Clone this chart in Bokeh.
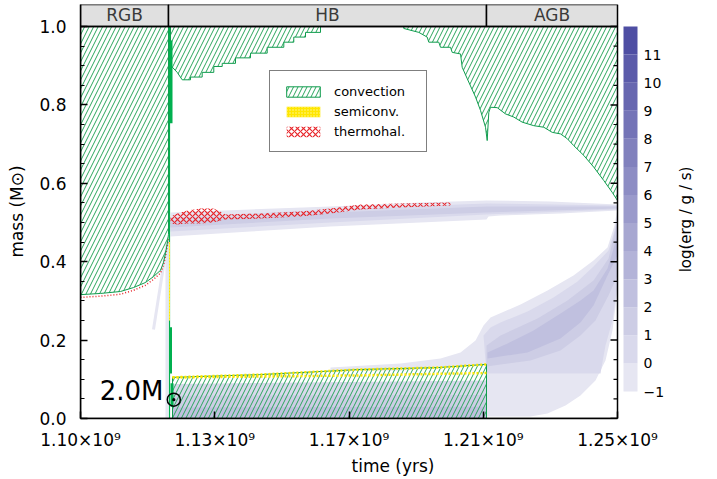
import math
from bokeh.plotting import figure
from bokeh.models import Range1d, FixedTicker, Legend, LegendItem
from bokeh.core.properties import value
from bokeh.embed import file_html
from bokeh.resources import INLINE

FONT = "DejaVu Sans"
GREEN_HATCH = "#2aa55c"
GREEN_LINE = "#109c4e"
FLASH_GREEN = "#00b04f"
YELLOW = "#ffe600"
RED = "#e8262b"

# ---------------- data (time in units of 1e9 yr, mass in Msun) ----------------
phase_edges = [1.100, 1.12458, 1.21341, 1.250]
phase_names = ["RGB", "HB", "AGB"]

x_ticks = [1.100, 1.1375, 1.175, 1.2125, 1.250]
x_tick_labels = ["1.10×10⁹", "1.13×10⁹", "1.17×10⁹", "1.21×10⁹", "1.25×10⁹"]
y_ticks = [0.0, 0.2, 0.4, 0.6, 0.8, 1.0]
y_tick_labels = ["0.0", "0.2", "0.4", "0.6", "0.8", "1.0"]
y_minor_ticks = [0.05, 0.10, 0.15, 0.25, 0.30, 0.35, 0.45, 0.50, 0.55,
                 0.65, 0.70, 0.75, 0.85, 0.90, 0.95]

cb_bounds = [-1, 0, 1, 2, 3, 4, 5, 6, 7, 8, 9, 10, 11, 12]
cb_ticks = [-1, 0, 1, 2, 3, 4, 5, 6, 7, 8, 9, 10, 11]
cb_tick_labels = ["−1", "0", "1", "2", "3", "4", "5", "6", "7", "8", "9", "10", "11"]
cb_title = "log(erg / g / s)"
cb_colors = ["#e6e6f2", "#d9d9ec", "#cdcde5", "#c0c0df", "#b3b3d8", "#a7a7d1",
             "#9a9acb", "#8d8dc4", "#8181bd", "#7474b7", "#6767b0", "#5b5baa", "#4e4ea3"]

# RGB convective envelope (bottom boundary)
rgb_bot_t = [1.10000, 1.10559, 1.11117, 1.11480, 1.11816, 1.12039, 1.12235,
             1.12318, 1.12374, 1.12430, 1.12458]
rgb_bot_m = [0.316, 0.319, 0.324, 0.334, 0.347, 0.362, 0.378, 0.398, 0.421, 0.450, 0.470]
rgb_th_m = [0.309, 0.312, 0.317, 0.327, 0.340, 0.355, 0.371, 0.391, 0.414, 0.443, 0.463]

# HB envelope convection (stepped)
hb_env_t = [1.12514, 1.12514, 1.12701, 1.12841, 1.13073, 1.13073, 1.13399, 1.13399,
            1.13723, 1.13723, 1.13958, 1.13958, 1.14330, 1.14330, 1.14749, 1.14749,
            1.15215, 1.15215, 1.15679, 1.15679, 1.15958, 1.15958, 1.16285, 1.16285,
            1.16704, 1.16704]
hb_env_m = [1.0, 0.901, 0.883, 0.864, 0.864, 0.871, 0.871, 0.883, 0.883, 0.898,
            0.898, 0.906, 0.906, 0.920, 0.920, 0.932, 0.932, 0.947, 0.947, 0.960,
            0.960, 0.973, 0.973, 0.985, 0.985, 1.0]

# late HB / AGB envelope convection
agb_env_t = [1.19031, 1.19450, 1.19684, 1.19729, 1.20008, 1.20056, 1.20335, 1.20383,
             1.20615, 1.20662, 1.20802, 1.21034, 1.21173, 1.21313, 1.21360, 1.21405,
             1.21453, 1.21640, 1.21872, 1.22103, 1.22338, 1.22662, 1.22941, 1.23176,
             1.23408, 1.23595, 1.23779, 1.24059, 1.24338, 1.24617, 1.24852, 1.25000]
agb_env_m = [0.995, 0.985, 0.973, 0.960, 0.960, 0.947, 0.947, 0.934, 0.930, 0.896,
             0.867, 0.820, 0.786, 0.743, 0.709, 0.781, 0.794, 0.793, 0.777, 0.769,
             0.756, 0.747, 0.743, 0.730, 0.726, 0.714, 0.696, 0.671, 0.641, 0.607,
             0.577, 0.556]

# HB convective core and semiconvective layer
core_t = [1.12570, 1.15000, 1.17821, 1.20000, 1.21341]
core_top_m = [0.105, 0.107, 0.110, 0.114, 0.116]
semi_top_m = [0.105, 0.112, 0.125, 0.130, 0.138]
core_shade_t = [1.12570, 1.21341]
core_shade_m = [[0.088, 0.097], [0.058, 0.060], [0.028, 0.030]]

# thermohaline mixing band on the HB
th_t = [1.12514, 1.12709, 1.12989, 1.13352, 1.13715, 1.13911, 1.14050, 1.15028,
        1.16145, 1.16983, 1.17821, 1.18939, 1.20335]
th_top_m = [0.5153, 0.5230, 0.5306, 0.5357, 0.5357, 0.5281, 0.5204, 0.5230,
            0.5281, 0.5357, 0.5459, 0.5485, 0.5510]
th_bot_m = [0.4974, 0.4949, 0.4974, 0.4974, 0.5000, 0.5051, 0.5077, 0.5102,
            0.5153, 0.5230, 0.5332, 0.5383, 0.5434]

# H-burning shell (nuclear energy levels 0, 1, 2)
hs0_top_t = [1.12514, 1.14749, 1.16983, 1.19497, 1.21341, 1.23129, 1.25]
hs0_top_m = [0.5255, 0.5332, 0.5408, 0.5510, 0.5561, 0.5536, 0.5459]
hs0_bot_t = [1.25, 1.23408, 1.21732, 1.21397, 1.21341, 1.19497, 1.16983, 1.14749, 1.12514]
hs0_bot_m = [0.5306, 0.5230, 0.5179, 0.5153, 0.5077, 0.5000, 0.4898, 0.4770, 0.4643]
hs1_t = [1.12514, 1.16983, 1.21341, 1.25]
hs1_top_m = [0.5128, 0.5332, 0.5485, 0.5434]
hs1_bot_m = [0.4770, 0.5000, 0.5204, 0.5332]
hs2_top_m = [0.5026, 0.5255, 0.5408, 0.5408]
hs2_bot_m = [0.4872, 0.5102, 0.5255, 0.5357]

# He-burning shell on the AGB (levels 0..3, closed outlines)
fan0_t = [1.16983, 1.18939, 1.20056, 1.20615, 1.21034, 1.21257, 1.21453, 1.22291,
          1.23045, 1.23771, 1.24330, 1.24721, 1.24916, 1.25000, 1.25000, 1.24860,
          1.24665, 1.24385, 1.23966, 1.23547, 1.23045, 1.22570, 1.21732, 1.21341,
          1.21341, 1.18939, 1.16983]
fan0_m = [0.1301, 0.1403, 0.1531, 0.1684, 0.1990, 0.2372, 0.2577, 0.2908, 0.3265,
          0.3648, 0.4031, 0.4362, 0.4923, 0.5383, 0.3265, 0.2245, 0.1480, 0.0969,
          0.0587, 0.0332, 0.0128, 0.0051, 0.0051, 0.0051, 0.1378, 0.1224, 0.1224]
fan1_t = [1.21257, 1.21453, 1.21732, 1.22486, 1.23212, 1.23883, 1.24330, 1.24749,
          1.24916, 1.25000, 1.25000, 1.24860, 1.24665, 1.24525, 1.22570, 1.21341]
fan1_m = [0.2117, 0.2321, 0.2449, 0.2730, 0.3087, 0.3495, 0.3878, 0.4286, 0.4796,
          0.5255, 0.3393, 0.2500, 0.1862, 0.1148, 0.1148, 0.1148]
fan2_t = [1.21341, 1.21732, 1.22765, 1.23603, 1.24330, 1.24749, 1.25000, 1.25000,
          1.24749, 1.24385, 1.23966, 1.23408, 1.22570, 1.21732, 1.21341]
fan2_m = [0.1862, 0.2117, 0.2551, 0.3010, 0.3520, 0.4082, 0.5051, 0.3648, 0.3138,
          0.2500, 0.2117, 0.1735, 0.1480, 0.1378, 0.1327]
fan3_t = [1.21369, 1.21927, 1.22654, 1.23408, 1.23966, 1.24330, 1.24721, 1.25000,
          1.25000, 1.24721, 1.24330, 1.23966, 1.23408, 1.22486, 1.21369]
fan3_m = [0.1684, 0.1913, 0.2245, 0.2679, 0.3010, 0.3265, 0.3827, 0.4668, 0.4158,
          0.3648, 0.2883, 0.2449, 0.2041, 0.1684, 0.1531]

# helium flash features
flash_t = 1.12486
flash_band_t = [1.12374, 1.12458]
flash_band_m = [0.0, 0.45]
flash_streak_t = [1.12039, 1.12430]
flash_streak_m = [0.227, 0.454]
spike_t = [1.12528, 1.12514, 1.12556]
spike_m0 = [0.753, 0.115, 0.030]
spike_m1 = [0.964, 0.233, 0.090]
flash_semi_t = [1.12472, 1.12500]
flash_semi_m = [0.25, 0.45]

# annotation
model_label = "2.0M"
label_t, label_m = 1.12318, 0.0714
sun_t, sun_m = 1.12606, 0.0480

# ---------------- figure geometry ----------------
px = 0.15 / 537.0                 # data units per pixel along x
X0, X1 = 1.100, 1.100 + 625 * px  # frame runs to the right edge (colour bar + its labels)
Y0, Y1 = 0.0, 1.056122            # frame includes the phase header
CB_RANGE = (-1.9616, 12.7836)
cb_left = 1.100 + 543 * px
cb_label_x = 1.100 + 563 * px
cb_title_x, cb_title_m = 1.100 + 605 * px, 0.5077

p = figure(width=705, height=479, x_range=Range1d(X0, X1), y_range=Range1d(Y0, Y1),
           output_backend="svg", toolbar_location=None,
           min_border_left=80, min_border_right=0, min_border_top=4, min_border_bottom=61)
p.extra_y_ranges = {"cb": Range1d(*CB_RANGE)}
p.xgrid.grid_line_color = None
p.ygrid.grid_line_color = None
p.outline_line_color = None
p.background_fill_color = "white"

# ---------------- nuclear energy shading ----------------
for (tt, mm), col in zip([(fan0_t, fan0_m), (fan1_t, fan1_m), (fan2_t, fan2_m), (fan3_t, fan3_m)],
                         cb_colors[0:4]):
    p.patch(tt, mm, fill_color=col, line_color=None)

p.patch(hs0_top_t + hs0_bot_t, hs0_top_m + hs0_bot_m, fill_color=cb_colors[0], line_color=None)
p.patch(hs1_t + hs1_t[::-1], hs1_top_m + hs1_bot_m[::-1], fill_color=cb_colors[1], line_color=None)
p.patch(hs1_t + hs1_t[::-1], hs2_top_m + hs2_bot_m[::-1], fill_color=cb_colors[2], line_color=None)

for lvl, mm in enumerate(core_shade_m):
    p.patch(core_shade_t + core_shade_t[::-1], mm + [0.0, 0.0],
            fill_color=cb_colors[lvl + 1], line_color=None)

p.quad(left=flash_band_t[0], right=flash_band_t[1], bottom=flash_band_m[0], top=flash_band_m[1],
       fill_color=cb_colors[0], line_color=None)
p.line(flash_streak_t, flash_streak_m, line_color=cb_colors[0], line_width=3)

# ---------------- mixing regions ----------------
r_th = p.patch(th_t + th_t[::-1], th_top_m + th_bot_m[::-1], fill_color=None, line_color=None,
               hatch_pattern="diagonal_cross", hatch_color=RED, hatch_scale=6, hatch_weight=1.2)
p.line(rgb_bot_t, rgb_th_m, line_color=RED, line_width=1.5, line_dash="1 2")

hatch = dict(fill_color=None, hatch_pattern="right_diagonal_line", hatch_color=GREEN_HATCH,
             hatch_scale=9, hatch_weight=1, line_color=GREEN_LINE, line_width=1)
r_env = p.patch([phase_edges[0], phase_edges[1]] + rgb_bot_t[::-1], [1.0, 1.0] + rgb_bot_m[::-1], **hatch)
p.patch(hb_env_t, hb_env_m, **hatch)
p.patch(agb_env_t + [1.25, agb_env_t[0]], agb_env_m + [1.0, 1.0], **hatch)
p.patch([core_t[0]] + core_t + [core_t[-1]], [0.0] + semi_top_m + [0.0], **hatch)

p.line(core_t, core_top_m, line_color=YELLOW, line_width=2.5, line_dash="2 2")
p.line(core_t, semi_top_m, line_color=YELLOW, line_width=2.5, line_dash="2 2")

# helium flash
p.segment(x0=flash_t, y0=0.0, x1=flash_t, y1=1.0, line_color=FLASH_GREEN, line_width=1.2)
p.segment(x0=spike_t, y0=spike_m0, x1=spike_t, y1=spike_m1, line_color=FLASH_GREEN, line_width=3)
r_semi = p.quad(left=flash_semi_t[0], right=flash_semi_t[1], bottom=flash_semi_m[0],
                top=flash_semi_m[1], fill_color=YELLOW, line_color=None,
                hatch_pattern="dot", hatch_color="#fff7a0", hatch_scale=3)

# ---------------- colour bar ----------------
p.quad(left=cb_left, right=cb_left + 14 * px, bottom=cb_bounds[:-1], top=cb_bounds[1:],
       fill_color=cb_colors, line_color=None, y_range_name="cb")
p.text(x=[cb_label_x] * len(cb_ticks), y=cb_ticks, text=cb_tick_labels, y_range_name="cb",
       text_align="left", text_baseline="middle", text_font=value(FONT),
       text_font_size="14px", text_color="black")
p.text(x=[cb_title_x], y=[cb_title_m], text=[cb_title], angle=math.pi / 2,
       text_align="center", text_baseline="middle", text_font=value(FONT),
       text_font_size="15px", text_color="black")

# ---------------- phase header and frame box ----------------
p.quad(left=phase_edges[:-1], right=phase_edges[1:], bottom=1.0, top=Y1,
       fill_color="#e0e0e0", line_color="black", line_width=1.5)
mids = [(a + b) / 2 for a, b in zip(phase_edges[:-1], phase_edges[1:])]
p.text(x=mids, y=[(1.0 + Y1) / 2] * 3, text=phase_names, text_align="center",
       text_baseline="middle", text_font=value(FONT), text_font_size="17px", text_color="#3a3a3a")
p.quad(left=phase_edges[0], right=phase_edges[-1], bottom=0.0, top=1.0,
       fill_color=None, line_color="black", line_width=1.5)

# right-hand mirrored ticks
p.segment(x0=phase_edges[-1], x1=phase_edges[-1] - 7 * px, y0=y_ticks, y1=y_ticks,
          line_color="black", line_width=1.5)
p.segment(x0=phase_edges[-1], x1=phase_edges[-1] - 4 * px, y0=y_minor_ticks, y1=y_minor_ticks,
          line_color="black", line_width=1.2)

# ---------------- annotation ----------------
p.text(x=[label_t], y=[label_m], text=[model_label], text_align="right", text_baseline="middle",
       text_font=value(FONT), text_font_size="26px", text_color="black")
p.scatter(x=[sun_t], y=[sun_m], marker="circle_dot", size=13, fill_color=None,
          line_color="black", line_width=1.5)

# ---------------- axes ----------------
xa = p.xaxis[0]
xa.ticker = FixedTicker(ticks=x_ticks, minor_ticks=[])
xa.major_label_overrides = {t: s for t, s in zip(x_ticks, x_tick_labels)}
xa.bounds = (phase_edges[0], phase_edges[-1])
xa.axis_label = "time (yrs)"

ya = p.yaxis[0]
ya.ticker = FixedTicker(ticks=y_ticks, minor_ticks=y_minor_ticks)
ya.major_label_overrides = {t: s for t, s in zip(y_ticks, y_tick_labels)}
ya.axis_label = "mass (M⊙)"

for ax in (xa, ya):
    ax.axis_line_width = 1.5
    ax.major_tick_in = 7
    ax.major_tick_out = 0
    ax.minor_tick_in = 4
    ax.minor_tick_out = 0
    ax.major_tick_line_width = 1.5
    ax.minor_tick_line_width = 1.2
    ax.major_label_text_font = FONT
    ax.axis_label_text_font = FONT
    ax.axis_label_text_font_style = "normal"
    ax.major_label_text_color = "black"
    ax.axis_label_text_color = "black"
xa.major_label_text_font_size = "17px"
xa.axis_label_text_font_size = "17px"
xa.major_label_standoff = 11
xa.axis_label_standoff = 3
ya.major_label_text_font_size = "17px"
ya.axis_label_text_font_size = "17px"
ya.major_label_standoff = 14
ya.axis_label_standoff = 9

# ---------------- legend ----------------
legend = Legend(items=[LegendItem(label="convection", renderers=[r_env]),
                       LegendItem(label="semiconv.", renderers=[r_semi]),
                       LegendItem(label="thermohal.", renderers=[r_th])],
                location=(189, 266), orientation="vertical", glyph_width=42, glyph_height=13,
                label_height=16, label_width=80, padding=12, spacing=4, margin=0,
                label_standoff=10, border_line_color="black", border_line_width=1,
                background_fill_color="white", background_fill_alpha=1.0,
                label_text_font=FONT, label_text_font_size="13px", label_text_color="black")
p.add_layout(legend, "center")

open("out.html", "w").write(file_html(p, INLINE))
